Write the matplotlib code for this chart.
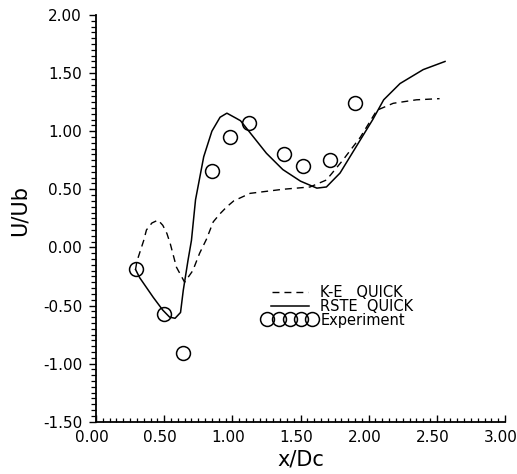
import matplotlib
matplotlib.use("Agg")
import matplotlib.pyplot as plt
from matplotlib.ticker import MultipleLocator, FormatStrFormatter
from matplotlib.lines import Line2D
from matplotlib.legend_handler import HandlerLine2D
from matplotlib.transforms import ScaledTranslation

# ---- data ----
exp_x = [0.29, 0.50, 0.64, 0.85, 0.98, 1.12, 1.38, 1.52, 1.72, 1.90]
exp_y = [-0.19, -0.57, -0.91, 0.66, 0.95, 1.07, 0.80, 0.70, 0.75, 1.24]

rste_x = [0.29, 0.32, 0.42, 0.49, 0.54, 0.58, 0.62, 0.64, 0.675, 0.70, 0.73,
          0.79, 0.85, 0.91, 0.96, 1.03, 1.06, 1.155, 1.25, 1.37, 1.50, 1.62,
          1.69, 1.79, 1.91, 2.03, 2.11, 2.23, 2.40, 2.56]
rste_y = [-0.19, -0.26, -0.43, -0.54, -0.60, -0.61, -0.56, -0.37, -0.11, 0.06, 0.41,
          0.78, 1.00, 1.12, 1.155, 1.11, 1.09, 0.95, 0.81, 0.67, 0.57, 0.51,
          0.52, 0.64, 0.87, 1.10, 1.27, 1.41, 1.53, 1.60]

ke_x = [0.29, 0.30, 0.35, 0.37, 0.41, 0.455, 0.49, 0.52, 0.545, 0.59, 0.65,
        0.71, 0.76, 0.81, 0.86, 0.91, 0.96, 1.01, 1.13, 1.37, 1.57, 1.69,
        1.81, 1.94, 2.06, 2.18, 2.35, 2.52]
ke_y = [-0.19, -0.12, 0.06, 0.15, 0.21, 0.235, 0.19, 0.12, 0.03, -0.17, -0.30,
        -0.20, -0.05, 0.07, 0.22, 0.29, 0.35, 0.40, 0.465, 0.50, 0.52, 0.58,
        0.75, 0.95, 1.18, 1.24, 1.27, 1.28]

labels = ["K-E   QUICK", "RSTE  QUICK", "Experiment"]
xlabel = "x/Dc"
ylabel = "U/Ub"

DASH = (5.0, 3.6)

# ---- figure ----
fig = plt.figure(figsize=(5.17, 4.74), dpi=100)
ax = fig.add_axes([0.1857, 0.1103, 0.7911, 0.8581])

ax.plot(ke_x, ke_y, color="black", lw=1.0, dashes=DASH)
ax.plot(rste_x, rste_y, color="black", lw=1.1)
ax.plot(exp_x, exp_y, linestyle="none", marker="o", markersize=10,
        markerfacecolor="none", markeredgecolor="black", markeredgewidth=1.1)

ax.set_xlim(0, 3)
ax.set_ylim(-1.5, 2.0)
ax.xaxis.set_major_locator(MultipleLocator(0.5))
ax.xaxis.set_minor_locator(MultipleLocator(0.05))
ax.yaxis.set_major_locator(MultipleLocator(0.5))
ax.yaxis.set_minor_locator(MultipleLocator(0.05))
ax.xaxis.set_major_formatter(FormatStrFormatter("%.2f"))
ax.yaxis.set_major_formatter(FormatStrFormatter("%.2f"))

for s in ["top", "right"]:
    ax.spines[s].set_visible(False)
for s in ["left", "bottom"]:
    ax.spines[s].set_linewidth(1.3)

ax.tick_params(axis="x", which="major", direction="in", length=5, width=1.0,
               pad=6, labelsize=11)
ax.tick_params(axis="x", which="minor", direction="in", length=3, width=0.9)
ax.tick_params(axis="y", which="major", direction="out", length=5, width=1.0,
               pad=5, labelsize=11)
ax.tick_params(axis="y", which="minor", direction="out", length=3.5, width=0.9)

ax.set_xlabel(xlabel, fontsize=15)
ax.set_ylabel(ylabel, fontsize=15)
ax.xaxis.set_label_coords(0.5, -0.068)
ax.yaxis.set_label_coords(-0.163, 0.52)

handles = [
    Line2D([], [], color="black", lw=1.0, dashes=DASH),
    Line2D([], [], color="black", lw=1.1),
    Line2D([], [], linestyle="none", marker="o", markersize=10,
           markerfacecolor="none", markeredgecolor="black", markeredgewidth=1.1),
]
hmap = {handles[0]: HandlerLine2D(marker_pad=0.6),
        handles[1]: HandlerLine2D(marker_pad=0.55)}
ax.legend(handles, labels, loc="upper left", bbox_to_anchor=(0.408, 0.335),
          frameon=False, borderpad=0, borderaxespad=0, numpoints=5,
          handlelength=3.7, handletextpad=0.25, labelspacing=-0.1,
          fontsize=10.5, handler_map=hmap)

fig.canvas.draw()
off = ScaledTranslation(-4 / 100, 0, fig.dpi_scale_trans)
for t in ax.xaxis.get_major_ticks():
    t.label1.set_transform(t.label1.get_transform() + off)

fig.savefig("out.png", dpi=100)
